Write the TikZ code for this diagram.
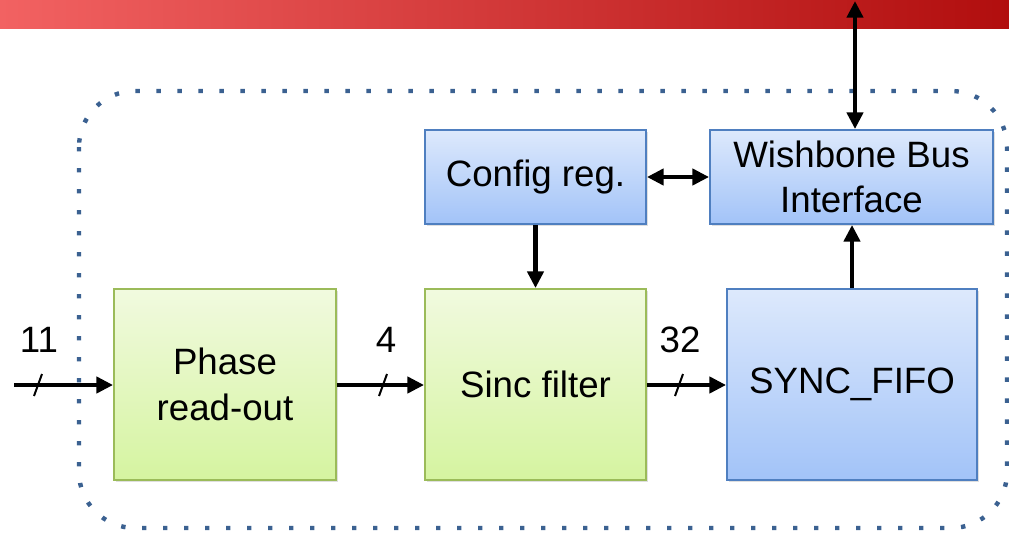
\documentclass[tikz,border=0pt]{standalone}
\usepackage{fontspec}
\setmainfont{Liberation Sans}
\usetikzlibrary{arrows.meta,shadows,calc}
\definecolor{gfill1}{HTML}{F1FADF}
\definecolor{gfill2}{HTML}{D5F4A0}
\definecolor{gdraw}{HTML}{9BBB59}
\definecolor{bfill1}{HTML}{DDE9FC}
\definecolor{bfill2}{HTML}{A2C3F8}
\definecolor{bdraw}{HTML}{4F7FC0}
\definecolor{dotc}{HTML}{3B6191}
\definecolor{redl}{HTML}{F26262}
\definecolor{redr}{HTML}{B10E0E}
\tikzset{
  block/.style={draw, line width=1.4pt, inner sep=0pt, align=center,
    font=\fontsize{27.5}{34}\selectfont,
    drop shadow={shadow xshift=1.2pt, shadow yshift=-1.2pt, opacity=0.25}},
  gblock/.style={block, draw=gdraw, top color=gfill1, bottom color=gfill2},
  bblock/.style={block, draw=bdraw, top color=bfill1, bottom color=bfill2},
  conn/.style={line width=3.4pt, -{Triangle[length=12.5pt,width=12pt]}},
  biconn/.style={line width=3.4pt, {Triangle[length=12.5pt,width=12pt]}-{Triangle[length=12.5pt,width=12pt]}},
  slash/.style={line width=1.5pt},
  buslabel/.style={inner sep=0pt, font=\fontsize{27.5}{34}\selectfont}
}
\begin{document}
\begin{tikzpicture}[x=0.75pt,y=-0.75pt]
\useasboundingbox (0,0) rectangle (1009,535);
\fill[white] (0,0) rectangle (1009,535);
% title band
\shade[left color=redl, right color=redr] (0,0) rectangle (1009,29);
% dotted border
\draw[dotc, line width=3.3pt, dash pattern=on 3.3pt off 12.45pt, rounded corners=42pt]
  (79,91) rectangle (1007,528);
% blocks
\node[gblock, minimum width=166.5pt, minimum height=143.25pt] (phase) at (225,384.5) {Phase\\read-out};
\node[gblock, minimum width=165.75pt, minimum height=143.25pt] (sinc) at (535.5,384.5) {Sinc filter};
\node[bblock, minimum width=187.5pt, minimum height=143.25pt] (fifo) at (852,384.5) {SYNC\_FIFO};
\node[bblock, minimum width=165.75pt, minimum height=70.5pt] (cfg) at (535.5,177) {Config reg.};
\node[bblock, minimum width=212.25pt, minimum height=70.5pt] (wb) at (851.5,177) {Wishbone Bus\\Interface};
% free ends
\coordinate (in) at (14,385);
\coordinate (top) at (855,1);
% connectors
\draw[conn] (in) -- (in -| phase.west);
\draw[conn] (phase.east |- 0,385) -- (sinc.west |- 0,385);
\draw[conn] (sinc.east |- 0,385) -- (fifo.west |- 0,385);
\draw[biconn] (cfg.east) -- (wb.west);
\draw[conn] (cfg.south) -- (sinc.north);
\draw[conn] (fifo.north) -- (wb.south -| fifo.north);
\draw[biconn] (wb.north -| top) -- (top);
% bus width marks
\coordinate (s1) at (38,385);
\coordinate (s2) at (383,385);
\coordinate (s3) at (679,385);
\foreach \s in {s1,s2,s3}
  \draw[slash] ($(\s)+(-4,11)$) -- ($(\s)+(4,-11)$);
\node[buslabel] (l1) at (39,340) {11};
\node[buslabel] (l2) at (386,340) {4};
\node[buslabel] (l3) at (680,340) {32};
\end{tikzpicture}
\end{document}
